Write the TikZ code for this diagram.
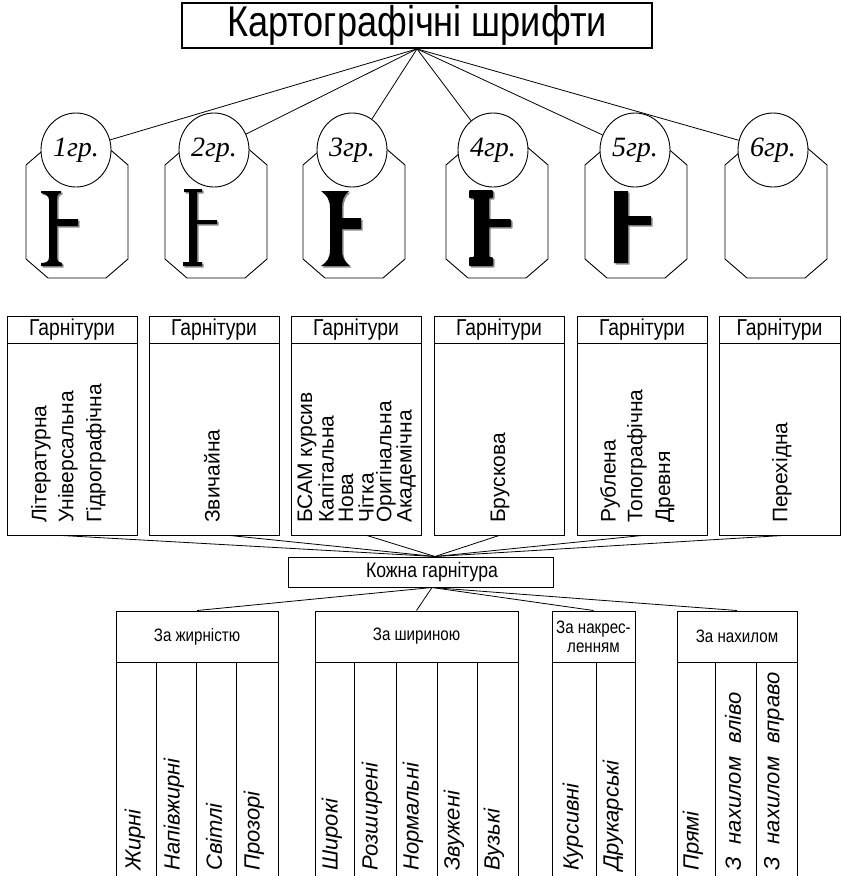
\documentclass[tikz,border=0pt]{standalone}
\usepackage{fontspec}
\setmainfont{Liberation Sans}
\newfontfamily\narrowf{Liberation Sans}[FakeStretch=0.84]
\newfontfamily\timesf{Liberation Serif}
\usetikzlibrary{shapes.geometric}
\begin{document}
\begin{tikzpicture}[x=1pt,y=-1pt,line join=miter,
  box/.style={draw,line width=1pt,rectangle,inner sep=0pt},
  grp/.style={draw,line width=0.9pt},
  oval/.style={ellipse,draw,line width=0.9pt,fill=white,inner sep=0pt,minimum width=70pt,minimum height=74pt,font=\timesf\itshape\fontsize{28}{28}\selectfont},
  conn/.style={line width=0.8pt},
  hdr/.style={box,font=\narrowf\fontsize{23}{23}\selectfont},
  rot/.style={rotate=90,anchor=west,inner sep=0pt,font=\fontsize{21}{21}\selectfont},
  roti/.style={rotate=90,anchor=west,inner sep=0pt,font=\itshape\fontsize{22}{22}\selectfont},
  divider/.style={line width=0.6pt}]
\useasboundingbox (0,0) rectangle (842,876);

% title
\node[box,line width=1.8pt,minimum width=470pt,minimum height=45pt,font=\narrowf\fontsize{43}{43}\selectfont] (title) at (417,25.5) {Картографічні шрифти};

% group octagons
\foreach \c in {77,216,354,497,636,776}{
  \draw[grp] (\c-51,165) -- (\c-29,146) -- (\c+29,146) -- (\c+51,165) -- (\c+51,259) -- (\c+29,278) -- (\c-29,278) -- (\c-51,259) -- cycle;
}
% ellipses
\node[oval] (e1) at (76,150) {1гр.};
\node[oval] (e2) at (214,150) {2гр.};
\node[oval] (e3) at (352,150) {3гр.};
\node[oval] (e4) at (493,150) {4гр.};
\node[oval] (e5) at (635,150) {5гр.};
\node[oval] (e6) at (773,150) {6гр.};
\foreach \e in {e1,e2,e3,e4,e5,e6}{ \draw[conn] (title.south) -- (\e); }

% glyphs (shadow then black)
\foreach \s/\col in {1.5/black!45,0/black}{
\begin{scope}[shift={(\s,\s)}]
\fill[\col] (41,191) -- (61,191) -- (61,193) .. controls (57,194) and (57,197) .. (57,200) -- (57,219) -- (78,219) -- (78,226) -- (57,226) -- (57,257) .. controls (57,261) and (59,263) .. (62,263) -- (62,266) -- (41,266) -- (41,263) .. controls (47,263) and (49,261) .. (49,257) -- (49,200) .. controls (49,196) and (46,194) .. (41,193) -- cycle;
\fill[\col] (184,189) -- (202,189) -- (202,192) -- (197,192) -- (197,220) -- (217,220) -- (217,224) -- (197,224) -- (197,262) -- (202,262) -- (202,266) -- (183,266) -- (183,262) -- (189,262) -- (189,192) -- (184,192) -- cycle;
\fill[\col] (321,191) -- (349,191) .. controls (344,195) and (342,200) .. (342,208) -- (342,218) -- (361,218) -- (361,229) -- (342,229) -- (342,250) .. controls (342,258) and (345,262) .. (350,266) -- (321,266) .. controls (327,262) and (330,258) .. (330,250) -- (330,208) .. controls (330,200) and (327,195) .. (321,191) -- cycle;
\fill[\col,rounded corners=1pt] (469,190) -- (493,190) -- (493,198) -- (489,198) -- (489,219) -- (511,219) -- (511,227) -- (489,227) -- (489,257) -- (493,257) -- (493,266) -- (469,266) -- (469,257) -- (474,257) -- (474,198) -- (469,198) -- cycle;
\fill[\col] (614,191) -- (628,191) -- (628,216) -- (651,216) -- (651,225) -- (628,225) -- (628,263) -- (614,263) -- cycle;
\end{scope}}

% garnitury boxes
\foreach \i/\l/\w in {1/7/130,2/149/130,3/291/130,4/434/130,5/577/130,6/719/121}{
  \node[hdr,minimum width=\w pt,minimum height=27pt] (gh\i) at (\l+\w/2,329.5) {Гарнітури};
  \node[box,minimum width=\w pt,minimum height=192pt] (gb\i) at (\l+\w/2,439) {};
}
\node[rot] (t11) at (41,523) {Літературна};
\node[rot] (t12) at (68,523) {Універсальна};
\node[rot] (t13) at (96,523) {Гідрографічна};
\node[rot] (t21) at (212,523) {Звичайна};
\node[rot] (t31) at (307,523) {БСАМ курсив};
\node[rot] (t32) at (326,523) {Капітальна};
\node[rot] (t33) at (346,523) {Нова};
\node[rot] (t34) at (366,523) {Чітка};
\node[rot] (t35) at (386,523) {Оригінальна};
\node[rot] (t36) at (406,523) {Академічна};
\node[rot] (t41) at (500,523) {Брускова};
\node[rot] (t51) at (610,523) {Рублена};
\node[rot] (t52) at (637,523) {Топографічна};
\node[rot] (t53) at (665,523) {Древня};
\node[rot] (t61) at (782,523) {Перехідна};

% kozhna
\node[hdr,font=\narrowf\fontsize{21}{21}\selectfont,minimum width=265pt,minimum height=30pt] (k) at (421,572) {\hspace*{22pt}Кожна гарнітура};
\coordinate (kin) at ([xshift=14pt]k.north);
\coordinate (kout) at ([xshift=11pt]k.south);
\draw[conn] ([xshift=-10pt]gb1.south) -- (kin);
\draw[conn] ([xshift=16pt]gb2.south) -- (kin);
\draw[conn] ([xshift=11pt]gb3.south) -- (kin);
\draw[conn] (gb4.south) -- (kin);
\draw[conn] (gb5.south) -- (kin);
\draw[conn] ([xshift=3pt]gb6.south) -- (kin);

% categories
\tikzset{cat/.style={box,font=\narrowf\fontsize{18}{19}\selectfont,align=center}}
\node[cat,minimum width=162pt,minimum height=51pt] (ch1) at (197,636.5) {За жирністю};
\node[cat,minimum width=203pt,minimum height=51pt] (ch2) at (416.5,636.5) {За шириною};
\node[cat,minimum width=83pt,minimum height=51pt] (ch3) at (593.5,636.5) {За накрес-\\ленням};
\node[cat,minimum width=120pt,minimum height=51pt] (ch4) at (737,636.5) {За нахилом};
\node[box,minimum width=162pt,minimum height=228pt] (cb1) at (197,776) {};
\node[box,minimum width=203pt,minimum height=228pt] (cb2) at (416.5,776) {};
\node[box,minimum width=83pt,minimum height=228pt] (cb3) at (593.5,776) {};
\node[box,minimum width=120pt,minimum height=228pt] (cb4) at (737,776) {};
\foreach \n in {ch1,ch2,ch3,ch4}{ \draw[conn] (kout) -- (\n.north); }
\foreach \x in {156,196,236,354,396,437,477,596,715,756}{ \draw[divider] (\x,662) -- (\x,876); }

\node[roti] (b1) at (135,871) {Жирні};
\node[roti] (b2) at (174,871) {Напівжирні};
\node[roti] (b3) at (214,871) {Світлі};
\node[roti] (b4) at (254,871) {Прозорі};
\node[roti] (b5) at (332,871) {Широкі};
\node[roti] (b6) at (372,871) {Розширені};
\node[roti] (b7) at (413,871) {Нормальні};
\node[roti] (b8) at (454,871) {Звужені};
\node[roti] (b9) at (494,871) {Вузькі};
\node[roti] (b10) at (573,871) {Курсивні};
\node[roti] (b11) at (613,871) {Друкарські};
\node[roti] (b12) at (693,871) {Прямі};
\node[roti] (b13) at (733,871) {З\hspace{0.6em}нахилом\hspace{0.6em}вліво};
\node[roti] (b14) at (774,871) {З\hspace{0.6em}нахилом\hspace{0.6em}вправо};
\end{tikzpicture}
\end{document}
